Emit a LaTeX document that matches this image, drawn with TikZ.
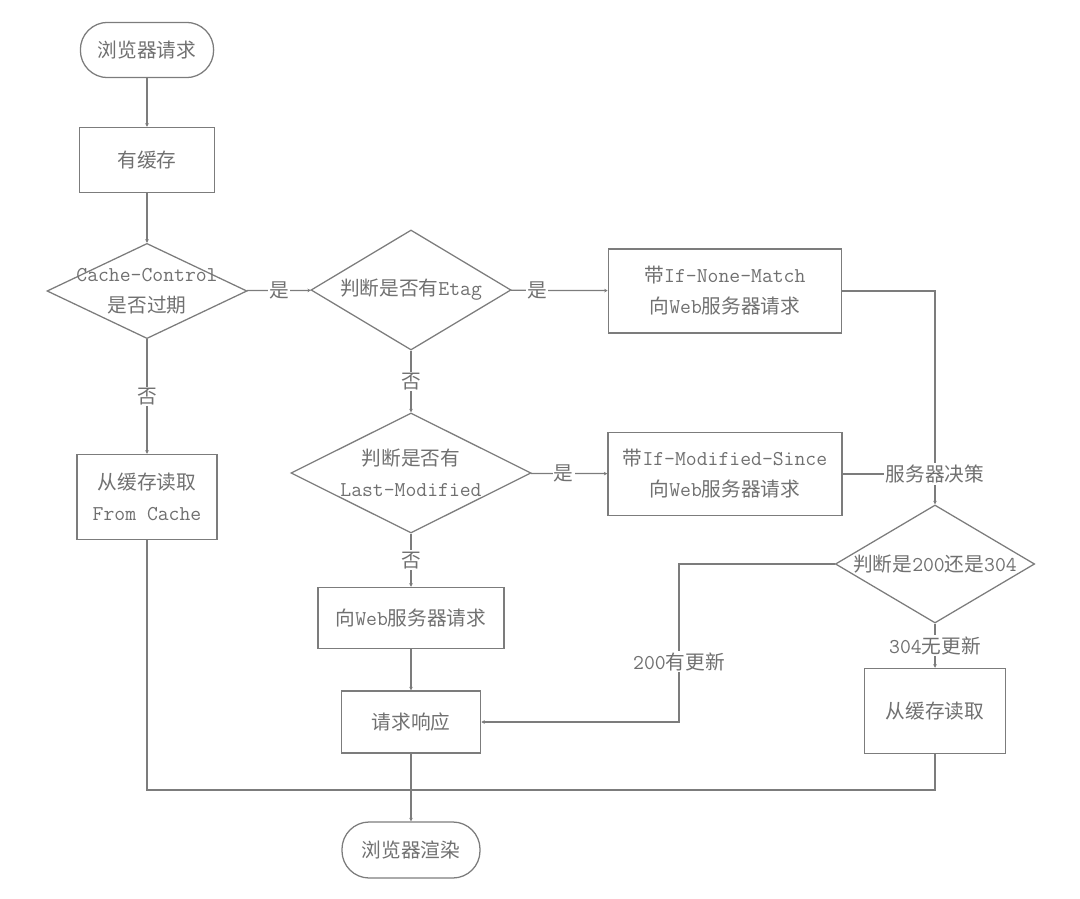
\documentclass[tikz,border=0pt]{standalone}
\usepackage{fontspec}
\setmainfont{Noto Sans CJK SC}
\usetikzlibrary{shapes.geometric,arrows.meta}
\definecolor{ln}{HTML}{7C7C7C}
\definecolor{tx}{HTML}{707070}
\newcommand\lt[1]{{\ttfamily\fontsize{15pt}{22pt}\selectfont #1}}
\begin{document}
\begin{tikzpicture}[x=0.025cm, y=-0.025cm, line width=0.9pt,
    every node/.style={text=tx, font=\fontsize{14pt}{22pt}\selectfont},
    proc/.style 2 args={draw=ln, rectangle, align=center, minimum width=#1, minimum height=#2},
    term/.style 2 args={draw=ln, rectangle, rounded corners=0.68cm, minimum width=#1, minimum height=#2},
    decision/.style 2 args={draw=ln, diamond, inner sep=0pt, minimum width=#1, minimum height=#2},
    lbl/.style={fill=white, inner sep=1pt},
    >={Stealth[length=2.5pt,width=2.5pt]}]
    \useasboundingbox (0,0) rectangle (1080,899);

    \node[term={3.33cm}{1.38cm}] (req) at (147,50) {浏览器请求};
    \node[proc={3.38cm}{1.63cm}] (hascache) at (147,160) {有缓存};
    \node[decision={5.0cm}{2.38cm}, label={[align=center]center:\lt{Cache-Control}\\是否过期}] (expired) at (147,291) {};
    \node[proc={3.5cm}{2.13cm}] (fromcache) at (147,497) {从缓存读取\\\lt{From Cache}};

    \node[decision={5.0cm}{3.0cm}, label={center:判断是否有\lt{Etag}}] (etag) at (411,290) {};
    \node[decision={6.0cm}{3.0cm}, label={[align=center]center:判断是否有\\\lt{Last-Modified}}] (lastmod) at (411,473) {};
    \node[proc={4.65cm}{1.53cm}] (webreq) at (411,618) {向\lt{Web}服务器请求};
    \node[proc={3.48cm}{1.55cm}] (resp) at (411,722) {请求响应};
    \node[term={3.45cm}{1.4cm}] (render) at (411,850) {浏览器渲染};
    \coordinate (join) at (411,790);

    \node[proc={5.83cm}{2.1cm}] (nonematch) at (725,291) {带\lt{If-None-Match}\\向\lt{Web}服务器请求};
    \node[proc={5.85cm}{2.08cm}] (modsince) at (725,474) {带\lt{If-Modified-Since}\\向\lt{Web}服务器请求};
    \node[inner sep=1pt] (server) at (935,474) {服务器决策};
    \node[decision={4.98cm}{2.95cm}, label={center:判断是\lt{200}还是\lt{304}}] (status) at (935,564) {};
    \node[proc={3.53cm}{2.13cm}] (fromcache2) at (935,711) {从缓存读取};
    \coordinate (bend) at (679,722);

    \draw[draw=ln,->] (req) -- (hascache);
    \draw[draw=ln,->] (hascache) -- (expired);
    \draw[draw=ln,->] (expired) -- node[lbl] {否} (fromcache);
    \draw[draw=ln,->] (expired) -- node[lbl] {是} (etag);
    \draw[draw=ln,->] (etag) -- node[lbl, pos=.27] {是} (nonematch);
    \draw[draw=ln,->] (etag) -- node[lbl] {否} (lastmod);
    \draw[draw=ln,->] (lastmod) -- node[lbl, pos=.43] {是} (modsince);
    \draw[draw=ln,->] (lastmod) -- node[lbl] {否} (webreq);
    \draw[draw=ln,->] (webreq) -- (resp);
    \draw[draw=ln] (nonematch.east) -| (server.north);
    \draw[draw=ln] (modsince) -- (server);
    \draw[draw=ln,->] (server) -- (status);
    \draw[draw=ln,->] (status) -- node[lbl] {\lt{304}无更新} (fromcache2);
    \draw[draw=ln,->] (status.west) -| node[lbl, pos=.81] {\lt{200}有更新} (bend) -- (resp.east);
    \draw[draw=ln] (fromcache.south) |- (join);
    \draw[draw=ln] (fromcache2.south) |- (join);
    \draw[draw=ln,->] (resp) -- (render);
\end{tikzpicture}
\end{document}
